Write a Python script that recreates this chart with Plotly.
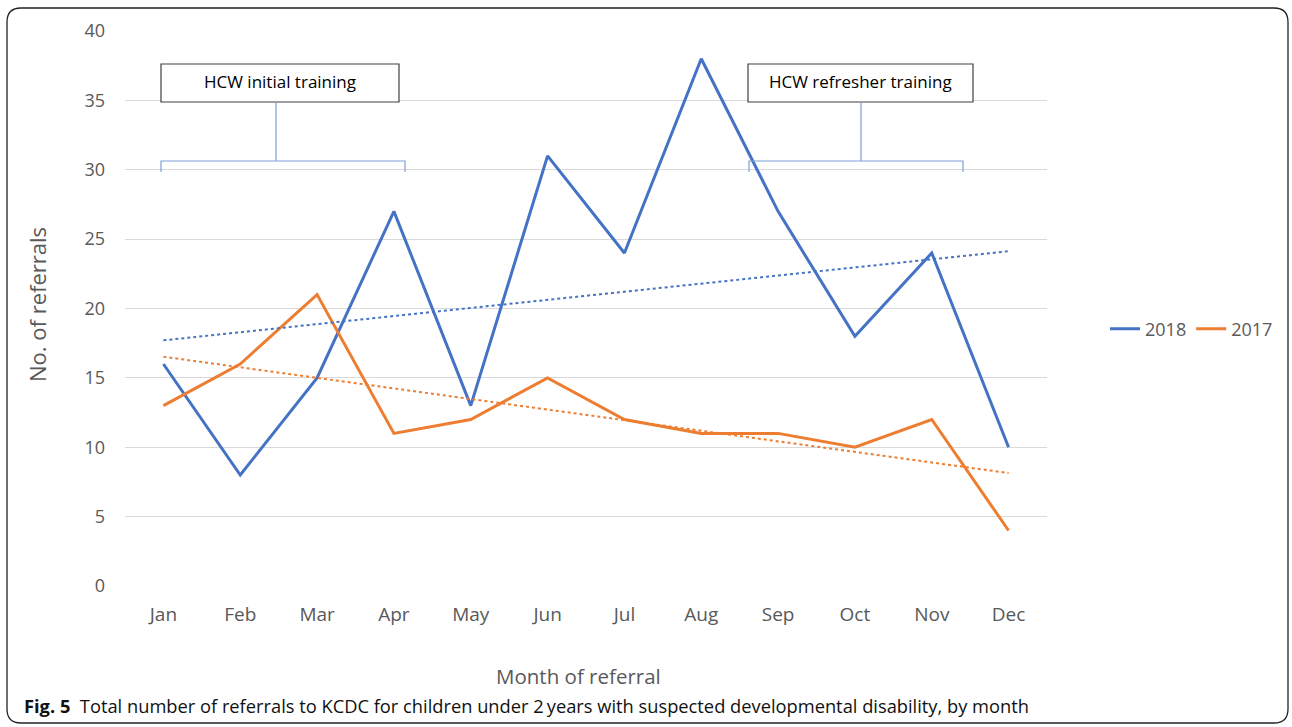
import numpy as np
import plotly.graph_objects as go

months = ["Jan", "Feb", "Mar", "Apr", "May", "Jun", "Jul", "Aug", "Sep", "Oct", "Nov", "Dec"]
referrals_2018 = [16, 8, 15, 27, 13, 31, 24, 38, 27, 18, 24, 10]
referrals_2017 = [13, 16, 21, 11, 12, 15, 12, 11, 11, 10, 12, 4]
y_ticks = [0, 5, 10, 15, 20, 25, 30, 35, 40]

BLUE = "#4472C4"
ORANGE = "#ED7D31"
GREY = "#595959"
FONT = "Open Sans"

# plot-area geometry in pixels (used to convert pixel positions to paper coords)
W, H = 1292, 727
L, R, T, B = 125, 245, 31, 141
PW, PH = W - L - R, H - T - B


def px(x):
    return (x - L) / PW


def py(y):
    return (H - B - y) / PH


idx = np.arange(len(months))


def trend(values):
    k, c = np.polyfit(idx + 1, values, 1)
    return k * (idx + 1) + c


fig = go.Figure()
fig.add_trace(go.Scatter(x=months, y=referrals_2018, mode="lines", name="2018",
                         line=dict(color=BLUE, width=3)))
fig.add_trace(go.Scatter(x=months, y=referrals_2017, mode="lines", name="2017",
                         line=dict(color=ORANGE, width=3)))
fig.add_trace(go.Scatter(x=months, y=trend(referrals_2018), mode="lines", showlegend=False,
                         line=dict(color=BLUE, width=2, dash="dot"), hoverinfo="skip"))
fig.add_trace(go.Scatter(x=months, y=trend(referrals_2017), mode="lines", showlegend=False,
                         line=dict(color=ORANGE, width=2, dash="dot"), hoverinfo="skip"))

shapes = []
annotations = []


def text_at(text, x, y, size, color, **kw):
    opts = dict(text=text, xref="paper", yref="paper", x=px(x), y=py(y),
                xanchor="center", yanchor="middle", showarrow=False,
                font=dict(family=FONT, size=size, color=color))
    opts.update(kw)
    annotations.append(opts)


def training_label(text, box, bracket, stem_x):
    bx0, bx1 = box
    shapes.append(dict(type="rect", xref="paper", yref="paper",
                       x0=px(bx0), x1=px(bx1), y0=py(102), y1=py(64),
                       line=dict(color="#404040", width=1.2), fillcolor="white", layer="above"))
    text_at(text, (bx0 + bx1) / 2, 82, 17, "black")
    kx0, kx1 = bracket
    path = (f"M {px(kx0)},{py(172)} L {px(kx0)},{py(161)} L {px(kx1)},{py(161)} "
            f"L {px(kx1)},{py(172)} M {px(stem_x)},{py(161)} L {px(stem_x)},{py(102)}")
    shapes.append(dict(type="path", xref="paper", yref="paper", path=path,
                       line=dict(color="#7F9FD8", width=1.2), layer="above"))


training_label("HCW initial training", (161, 399), (161, 405), 276)
training_label("HCW refresher training", (748, 973), (749, 963), 861)

# rounded outer frame
x0, x1, y0, y1, r = 7, 1288, 8, 723, 14
frame = (f"M {px(x0 + r)},{py(y0)} L {px(x1 - r)},{py(y0)} "
         f"Q {px(x1)},{py(y0)} {px(x1)},{py(y0 + r)} L {px(x1)},{py(y1 - r)} "
         f"Q {px(x1)},{py(y1)} {px(x1 - r)},{py(y1)} L {px(x0 + r)},{py(y1)} "
         f"Q {px(x0)},{py(y1)} {px(x0)},{py(y1 - r)} L {px(x0)},{py(y0 + r)} "
         f"Q {px(x0)},{py(y0)} {px(x0 + r)},{py(y0)} Z")
shapes.append(dict(type="path", xref="paper", yref="paper", path=frame,
                   line=dict(color="#222222", width=1.3), layer="above"))

text_at("No. of referrals", 37, 305, 22, GREY, textangle=-90)
text_at("Month of referral", 578, 676, 20.5, GREY)
text_at("<b>Fig. 5</b>  Total number of referrals to KCDC for children under 2\u2009years "
        "with suspected developmental disability, by month",
        22, 705, 18.3, "#111111", xanchor="left")

fig.update_layout(
    width=W, height=H,
    margin=dict(l=L, r=R, t=T, b=B),
    paper_bgcolor="white", plot_bgcolor="white",
    font=dict(family=FONT, color=GREY),
    shapes=shapes, annotations=annotations,
    legend=dict(orientation="h", x=px(1105), y=py(329), xanchor="left", yanchor="middle",
                font=dict(family=FONT, size=18, color=GREY), bgcolor="rgba(0,0,0,0)",
                itemwidth=30, tracegroupgap=0),
    xaxis=dict(range=[-0.5, 11.5], showgrid=False, zeroline=False, showline=False,
               tickfont=dict(family=FONT, size=19, color=GREY), ticks="",
               ticklabelstandoff=15, fixedrange=True),
    yaxis=dict(range=[0, 40], tickvals=y_ticks, showgrid=True, gridcolor="#D9D9D9",
               gridwidth=1, zeroline=False, showline=False, ticks="",
               tickfont=dict(family=FONT, size=18, color=GREY),
               ticklabelstandoff=19, fixedrange=True),
)

fig.write_html("out.html")
